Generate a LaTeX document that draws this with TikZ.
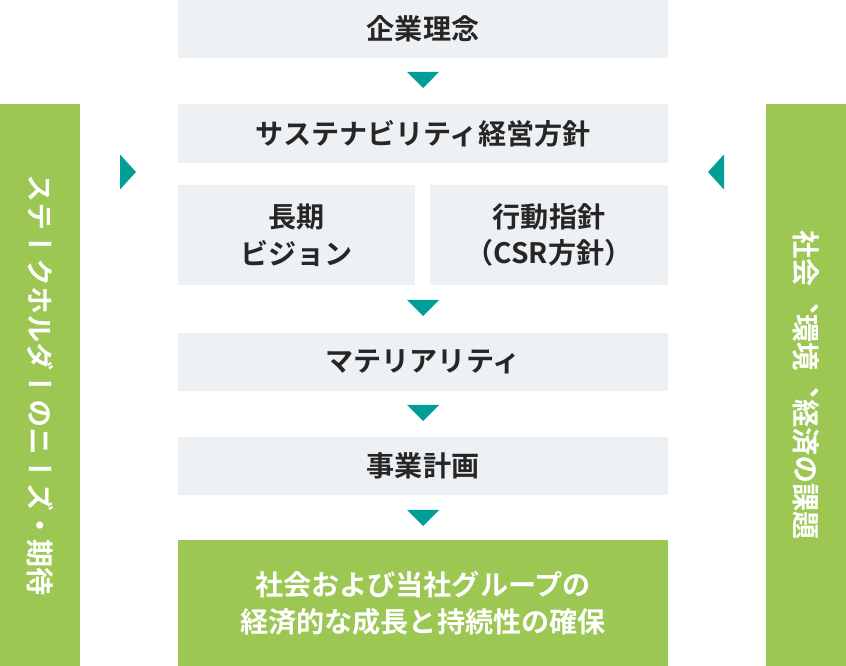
\documentclass[tikz,border=0pt]{standalone}
\usepackage{fontspec}
\setmainfont{Noto Sans CJK JP}[BoldFont={Noto Sans CJK JP Bold}]
\newfontfamily\vertfont[Vertical=RotatedGlyphs,RawFeature=+vert,BoldFont={Noto Sans CJK JP Bold}]{Noto Sans CJK JP}
\definecolor{boxgray}{HTML}{EEF1F4}
\definecolor{leaf}{HTML}{9CC753}
\definecolor{teal}{HTML}{009E96}
\tikzset{
  flowbox/.style={fill=boxgray,minimum width=9.8cm,minimum height=1.16cm,inner sep=0pt,
    align=center,font=\fontsize{16}{21}\selectfont\bfseries,text=black!85},
  sidebar/.style={fill=leaf,minimum width=1.6cm,minimum height=11.24cm,inner sep=0pt}
}
\begin{document}
\begin{tikzpicture}
\useasboundingbox (0,0) rectangle (16.92,-13.32);

% main flow boxes
\node[flowbox] (philosophy) at (8.46,-0.58) {企業理念};
\node[flowbox,minimum height=1.18cm] (policy) at (8.46,-2.67) {サステナビリティ経営方針};
\node[flowbox,minimum width=4.74cm,minimum height=2cm] (vision) at (5.93,-4.7) {長期\\ビジョン};
\node[flowbox,minimum width=4.76cm,minimum height=2cm] (conduct) at (10.98,-4.7) {行動指針\\（CSR方針）};
\node[flowbox] (materiality) at (8.46,-7.24) {マテリアリティ};
\node[flowbox] (plan) at (8.46,-9.32) {事業計画};
\node[flowbox,fill=leaf,text=white,minimum height=2.52cm] (goal) at (8.46,-12.06)
  {社会および当社グループの\\経済的な成長と持続性の確保};

% side bars
\node[sidebar] (stakeholders) at (0.8,-7.7) {};
\node[rotate=-90,text=white,font=\vertfont\fontsize{16}{20}\selectfont\bfseries]
  at (stakeholders.center) {ステークホルダーのニーズ・期待};
\node[sidebar] (issues) at (16.12,-7.7) {};
\node[rotate=-90,text=white,font=\vertfont\fontsize{16}{20}\selectfont\bfseries]
  at (issues.center) {社会、環境、経済の課題};

% arrows
\foreach \y in {-1.6,-6.16,-8.26,-10.36}
  \fill[teal] (8.14,\y+0.16) -- (8.78,\y+0.16) -- (8.46,\y-0.16) -- cycle;
\fill[teal] (2.4,-3.09) -- (2.72,-3.44) -- (2.4,-3.79) -- cycle;
\fill[teal] (14.48,-3.09) -- (14.16,-3.44) -- (14.48,-3.79) -- cycle;
\end{tikzpicture}
\end{document}
